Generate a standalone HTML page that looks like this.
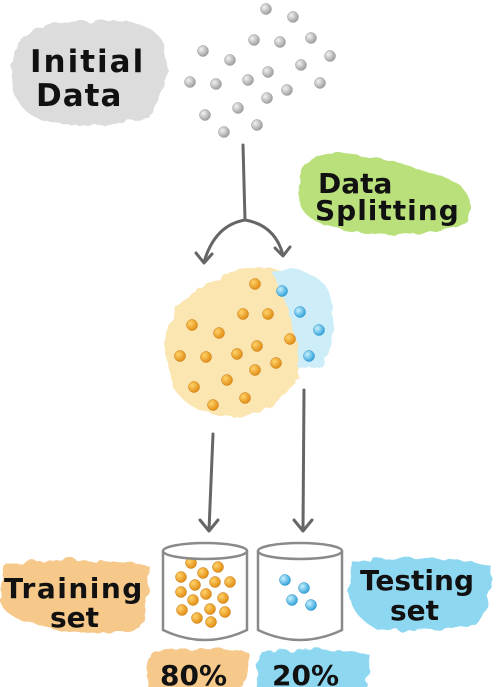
<!DOCTYPE html>
<html><head><meta charset="utf-8"><style>
html,body{margin:0;padding:0;background:#fff;}
svg{display:block;}
text{font-family:"Comic Sans MS","DejaVu Sans","Liberation Sans",sans-serif;fill:#111;font-weight:bold;}
</style></head><body>
<svg width="497" height="687" viewBox="0 0 497 687" xmlns="http://www.w3.org/2000/svg">
<defs>
<radialGradient id="g" cx="0.35" cy="0.35" r="0.7"><stop offset="0" stop-color="#f2f2f2"/><stop offset="1" stop-color="#9a9a9a"/></radialGradient>
<radialGradient id="o" cx="0.35" cy="0.35" r="0.7"><stop offset="0" stop-color="#ffd36a"/><stop offset="1" stop-color="#e08a10"/></radialGradient>
<radialGradient id="b" cx="0.35" cy="0.35" r="0.7"><stop offset="0" stop-color="#c8f0ff"/><stop offset="1" stop-color="#2a9fd8"/></radialGradient>
<filter id="rough" x="-10%" y="-10%" width="120%" height="120%"><feTurbulence type="fractalNoise" baseFrequency="0.08" numOctaves="2" seed="3"/><feDisplacementMap in="SourceGraphic" scale="8"/></filter>
</defs>
<!-- blobs -->
<g filter="url(#rough)">
<path d="M20,40 Q40,18 90,22 Q150,15 165,45 Q170,90 150,118 Q100,130 50,122 Q15,115 12,80 Q10,55 20,40Z" fill="#dcdcdc"/>
<path d="M305,165 Q320,148 360,155 Q420,165 460,185 Q478,205 462,225 Q420,238 360,232 Q310,228 300,205 Q296,180 305,165Z" fill="#b9e07a"/>
<path d="M230,272 Q265,262 295,275 Q305,320 300,370 Q290,410 240,416 Q190,418 172,385 Q160,350 170,320 Q185,290 230,272Z" fill="#fbe6b2"/>
<path d="M272,272 Q300,262 325,285 Q340,320 330,355 Q318,375 298,368 Q300,330 272,272Z" fill="#cdeef9"/>
<path d="M8,565 Q60,555 148,565 Q152,600 140,628 Q80,638 40,625 Q5,620 0,600 Q0,575 8,565Z" fill="#f6c88a"/>
<path d="M352,562 Q420,552 490,565 Q495,600 475,625 Q420,635 375,628 Q350,615 348,590Z" fill="#8dd7f1"/>
<path d="M150,652 Q200,645 248,652 Q250,680 240,690 L148,690 Q145,665 150,652Z" fill="#f6c88a"/>
<path d="M262,652 Q320,645 370,655 Q372,680 362,690 L258,690 Q255,665 262,652Z" fill="#8dd7f1"/>
</g>
<!-- labels -->
<text x="30" y="72" font-size="31" letter-spacing="2">Initial</text>
<text x="36" y="106" font-size="31" letter-spacing="1">Data</text>
<text x="318" y="193" font-size="28">Data</text>
<text x="315" y="220" font-size="28" letter-spacing="1">Splitting</text>
<text x="4" y="598" font-size="28" letter-spacing="1.5">Training</text>
<text x="50" y="627" font-size="28">set</text>
<text x="360" y="590" font-size="28">Testing</text>
<text x="390" y="620" font-size="28">set</text>
<text x="160" y="685" font-size="28">80%</text>
<text x="272" y="685" font-size="28">20%</text>
<!-- gray dots -->
<g fill="url(#g)" stroke="#999" stroke-width="0.5">
<circle cx="266" cy="9" r="5.5"/><circle cx="293" cy="17" r="5.5"/><circle cx="254" cy="40" r="5.5"/><circle cx="280" cy="42" r="5.5"/><circle cx="311" cy="38" r="5.5"/><circle cx="203" cy="51" r="5.5"/><circle cx="230" cy="60" r="5.5"/><circle cx="330" cy="56" r="5.5"/><circle cx="190" cy="82" r="5.5"/><circle cx="216" cy="84" r="5.5"/><circle cx="248" cy="80" r="5.5"/><circle cx="268" cy="72" r="5.5"/><circle cx="301" cy="65" r="5.5"/><circle cx="320" cy="83" r="5.5"/><circle cx="287" cy="90" r="5.5"/><circle cx="267" cy="98" r="5.5"/><circle cx="238" cy="108" r="5.5"/><circle cx="205" cy="115" r="5.5"/><circle cx="257" cy="125" r="5.5"/><circle cx="224" cy="132" r="5.5"/>
</g>
<!-- orange dots -->
<g fill="url(#o)" stroke="#c77a10" stroke-width="0.5">
<circle cx="255" cy="284" r="5.5"/><circle cx="243" cy="314" r="5.5"/><circle cx="268" cy="314" r="5.5"/><circle cx="192" cy="325" r="5.5"/><circle cx="219" cy="333" r="5.5"/><circle cx="290" cy="339" r="5.5"/><circle cx="180" cy="356" r="5.5"/><circle cx="206" cy="357" r="5.5"/><circle cx="237" cy="354" r="5.5"/><circle cx="257" cy="346" r="5.5"/><circle cx="276" cy="363" r="5.5"/><circle cx="255" cy="370" r="5.5"/><circle cx="194" cy="387" r="5.5"/><circle cx="227" cy="380" r="5.5"/><circle cx="213" cy="405" r="5.5"/><circle cx="245" cy="398" r="5.5"/>
<circle cx="191" cy="563" r="5.5"/><circle cx="218" cy="567" r="5.5"/><circle cx="203" cy="573" r="5.5"/><circle cx="181" cy="577" r="5.5"/><circle cx="195" cy="585" r="5.5"/><circle cx="215" cy="582" r="5.5"/><circle cx="230" cy="582" r="5.5"/><circle cx="181" cy="592" r="5.5"/><circle cx="206" cy="594" r="5.5"/><circle cx="223" cy="598" r="5.5"/><circle cx="193" cy="600" r="5.5"/><circle cx="182" cy="610" r="5.5"/><circle cx="210" cy="609" r="5.5"/><circle cx="225" cy="612" r="5.5"/><circle cx="197" cy="618" r="5.5"/><circle cx="211" cy="622" r="5.5"/>
</g>
<g fill="url(#b)" stroke="#2a8fc8" stroke-width="0.5">
<circle cx="282" cy="291" r="5.5"/><circle cx="300" cy="312" r="5.5"/><circle cx="319" cy="330" r="5.5"/><circle cx="309" cy="356" r="5.5"/>
<circle cx="285" cy="580" r="5.5"/><circle cx="304" cy="588" r="5.5"/><circle cx="292" cy="600" r="5.5"/><circle cx="311" cy="605" r="5.5"/>
</g>
<!-- arrows -->
<g fill="none" stroke="#666" stroke-width="3" stroke-linecap="round" stroke-linejoin="round">
<path d="M243,145 L245,220"/>
<path d="M245,220 Q215,225 204,262"/>
<path d="M245,220 Q275,225 283,255"/>
<path d="M196,253 L204,263 L212,254"/>
<path d="M275,248 L283,256 L290,247"/>
<path d="M213,434 L209,530"/>
<path d="M200,520 L209,531 L218,520"/>
<path d="M304,390 L303,530"/>
<path d="M294,520 L303,531 L312,520"/>
</g>
<!-- cylinders -->
<g fill="none" stroke="#8a8a8a" stroke-width="2.5">
<ellipse cx="205" cy="551" rx="42" ry="8"/>
<path d="M163,551 L163,630 Q205,650 247,630 L247,551"/>
<ellipse cx="300" cy="551" rx="42" ry="8"/>
<path d="M258,551 L258,630 Q300,650 342,630 L342,551"/>
</g>
</svg>
</body></html>
